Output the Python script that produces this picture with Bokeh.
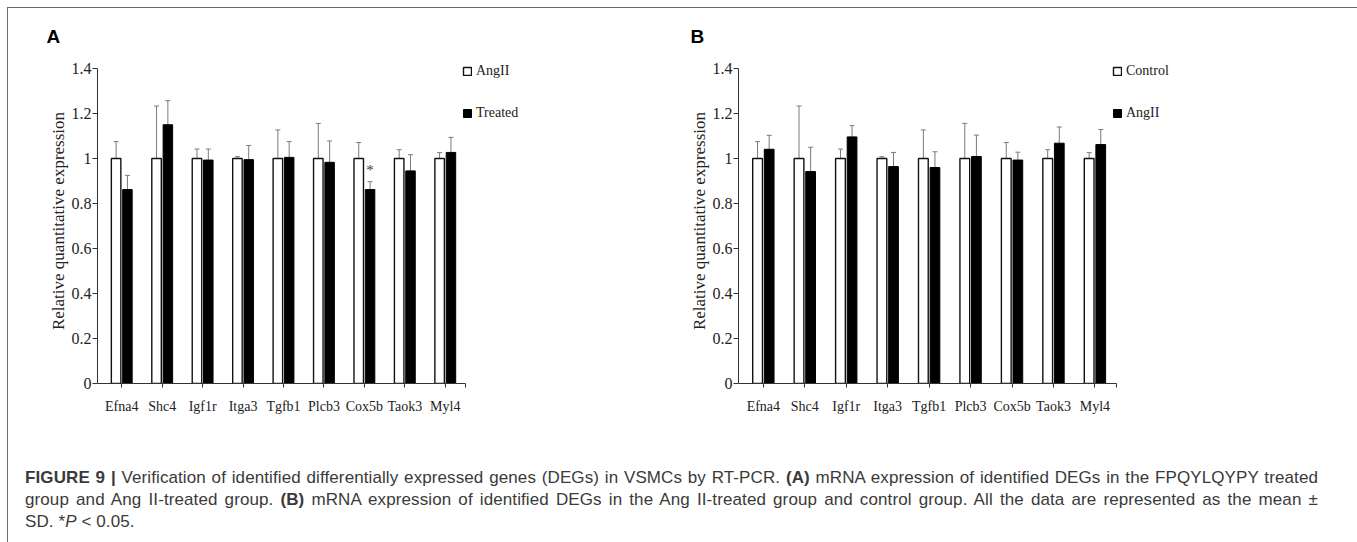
from bokeh.plotting import figure
from bokeh.models import (Range1d, FixedTicker, CustomJSTickFormatter, Whisker, ColumnDataSource,
                          Legend, LegendItem, Title, Div, TeeHead, Label)
from bokeh.layouts import column, row
from bokeh.embed import file_html
from bokeh.resources import INLINE
from bokeh.core.properties import value

# ---------------- data ----------------
genes = ["Efna4", "Shc4", "Igf1r", "Itga3", "Tgfb1", "Plcb3", "Cox5b", "Taok3", "Myl4"]
y_ticks = [0, 0.2, 0.4, 0.6, 0.8, 1.0, 1.2, 1.4]

# Panel A: AngII (white) vs Treated (black)
a_white_name = "AngII"
a_black_name = "Treated"
a_white_mean = [1.0, 1.0, 1.0, 1.0, 1.0, 1.0, 1.0, 1.0, 1.0]
a_white_sd = [0.075, 0.233, 0.042, 0.008, 0.127, 0.156, 0.071, 0.039, 0.026]
a_black_mean = [0.862, 1.150, 0.993, 0.995, 1.005, 0.983, 0.862, 0.945, 1.027]
a_black_sd = [0.063, 0.107, 0.049, 0.063, 0.070, 0.095, 0.035, 0.072, 0.067]
a_marks = ["", "", "", "", "", "", "*", "", ""]

# Panel B: Control (white) vs AngII (black)
b_white_name = "Control"
b_black_name = "AngII"
b_white_mean = [1.0, 1.0, 1.0, 1.0, 1.0, 1.0, 1.0, 1.0, 1.0]
b_white_sd = [0.075, 0.233, 0.042, 0.008, 0.127, 0.156, 0.071, 0.039, 0.026]
b_black_mean = [1.041, 0.942, 1.096, 0.964, 0.960, 1.009, 0.993, 1.068, 1.062]
b_black_sd = [0.062, 0.108, 0.050, 0.063, 0.070, 0.095, 0.035, 0.072, 0.067]
b_marks = ["", "", "", "", "", "", "", "", ""]

caption_l1 = ("<b>FIGURE 9 |</b> Verification of identified differentially expressed genes (DEGs) in VSMCs "
              "by RT-PCR. <b>(A)</b> mRNA expression of identified DEGs in the FPQYLQYPY treated")
caption_l2 = ("group and Ang II-treated group. <b>(B)</b> mRNA expression of identified DEGs in the Ang "
              "II-treated group and control group. All the data are represented as the mean &plusmn;")
caption_l3 = "SD. *<i>P</i> &lt; 0.05."

SERIF = "Liberation Serif"
H = 440
TOP = 50            # frame top (10px above the 1.4 tick, leaves room for the legend)
AXIS_H = 315        # pixel height of the 0..1.4 axis
EXTRA_TOP = 10
FRAME_H = AXIS_H + EXTRA_TOP
Y_MAX = 1.4
OFF = 0.14
BAR_W = 0.235
ERR_COLOR = "#7a7a7a"
AX_COLOR = "#333333"
RIGHT = 8


def make_panel(letter, white_name, black_name, white_mean, white_sd, black_mean, black_sd, marks,
               width, left, axis_w, x_end, legend_x, letter_off):
    idx = list(range(len(genes)))
    xw = [i - OFF for i in idx]
    xb = [i + OFF for i in idx]
    sw = ColumnDataSource(dict(x=xw, top=white_mean,
                               upper=[m + s for m, s in zip(white_mean, white_sd)],
                               lower=[m - s for m, s in zip(white_mean, white_sd)]))
    sb = ColumnDataSource(dict(x=xb, top=black_mean,
                               upper=[m + s for m, s in zip(black_mean, black_sd)],
                               lower=[m - s for m, s in zip(black_mean, black_sd)]))

    x_start = -0.6
    frame_w = width - left - RIGHT
    x_stop = x_start + frame_w * (x_end - x_start) / axis_w
    y_stop = Y_MAX * FRAME_H / AXIS_H

    p = figure(width=width, height=H, x_range=Range1d(x_start, x_stop), y_range=Range1d(0, y_stop),
               output_backend="svg", toolbar_location=None,
               min_border_left=left, min_border_right=RIGHT,
               min_border_top=TOP, min_border_bottom=H - TOP - FRAME_H)
    p.outline_line_color = None
    p.grid.visible = False
    p.background_fill_color = "white"
    p.border_fill_color = "white"

    rw = p.vbar(x="x", top="top", bottom=0, width=BAR_W, source=sw,
                fill_color="white", line_color="#111111", line_width=1.4)
    rb = p.vbar(x="x", top="top", bottom=0, width=BAR_W, source=sb,
                fill_color="black", line_color="black", line_width=1.0)

    for src in (sw, sb):
        p.add_layout(Whisker(source=src, base="x", upper="upper", lower="lower",
                             line_color=ERR_COLOR, line_width=1,
                             upper_head=TeeHead(size=5, line_color=ERR_COLOR, line_width=1),
                             lower_head=TeeHead(size=5, line_color=ERR_COLOR, line_width=1)))

    # significance marks, placed just above the black bar's error bar
    for i, m in enumerate(marks):
        if m:
            p.add_layout(Label(x=xb[i], y=black_mean[i] + black_sd[i] + 0.05, text=m,
                               text_align="center", text_baseline="middle",
                               text_font=SERIF, text_font_size="15px", text_color="#3a3a3a"))

    # axes
    xa = p.xaxis[0]
    xa.bounds = (x_start, x_end)
    xa.ticker = FixedTicker(ticks=idx + [x_end])
    ov = {i: g for i, g in enumerate(genes)}
    ov[x_end] = ""
    xa.major_label_overrides = ov
    xa.major_label_text_font = SERIF
    xa.major_label_text_font_size = "14px"
    xa.major_label_text_color = "#222222"
    xa.major_label_standoff = 11
    xa.major_tick_in = 0
    xa.major_tick_out = 4
    xa.minor_tick_line_color = None
    xa.axis_line_color = AX_COLOR
    xa.major_tick_line_color = AX_COLOR

    ya = p.yaxis[0]
    ya.bounds = (0, Y_MAX)
    ya.ticker = FixedTicker(ticks=y_ticks)
    ya.formatter = CustomJSTickFormatter(code="const s = tick.toFixed(1); return s.endsWith('.0') ? s.slice(0, -2) : s;")
    ya.major_label_text_font = SERIF
    ya.major_label_text_font_size = "16px"
    ya.major_label_text_color = "#222222"
    ya.major_label_standoff = 1
    ya.major_tick_in = 0
    ya.major_tick_out = 5
    ya.minor_tick_line_color = None
    ya.axis_line_color = AX_COLOR
    ya.major_tick_line_color = AX_COLOR
    ya.axis_label = "Relative quantitative expression"
    ya.axis_label_text_font = SERIF
    ya.axis_label_text_font_size = "17px"
    ya.axis_label_text_font_style = "normal"
    ya.axis_label_text_color = "#222222"
    ya.axis_label_standoff = 1

    legend = Legend(items=[LegendItem(label=value(white_name), renderers=[rw]),
                           LegendItem(label=value(black_name), renderers=[rb])],
                    location=(legend_x, 260), orientation="vertical",
                    glyph_width=10, glyph_height=10, label_standoff=4, label_height=20,
                    spacing=22, padding=0, margin=0,
                    border_line_color=None, background_fill_alpha=0,
                    label_text_font=SERIF, label_text_font_size="14px", label_text_color="#222222")
    p.add_layout(legend)

    p.add_layout(Title(text=letter, align="left", offset=letter_off, standoff=24,
                       text_font="Liberation Sans", text_font_style="bold", text_font_size="19px",
                       text_color="black"), "above")
    return p


pA = make_panel("A", a_white_name, a_black_name, a_white_mean, a_white_sd, a_black_mean, a_black_sd,
                a_marks, width=672, left=89, axis_w=368, x_end=8.5, legend_x=365, letter_off=-51)
pB = make_panel("B", b_white_name, b_black_name, b_white_mean, b_white_sd, b_black_mean, b_black_sd,
                b_marks, width=669, left=58, axis_w=378, x_end=8.52, legend_x=374, letter_off=-48)

line_style = "white-space:nowrap;text-align:justify;text-align-last:justify;"
cap_html = (
    "<div style=\"font-family:'Liberation Sans',Arial,sans-serif;font-size:17px;line-height:22px;"
    "letter-spacing:0.1px;color:#3a3a3a;padding:14px 12px 0 12px;width:1317px;\">"
    f"<div style=\"{line_style}\">{caption_l1}</div>"
    f"<div style=\"{line_style}\">{caption_l2}</div>"
    f"<div style=\"white-space:nowrap;\">{caption_l3}</div>"
    "</div>"
)
cap = Div(text=cap_html, width=1341, height=100)

layout = column(row(pA, pB), cap,
                styles={"border": "1px solid #6a6a6a", "margin-left": "7px", "margin-top": "7px"})

with open("out.html", "w") as f:
    f.write(file_html(layout, INLINE))
